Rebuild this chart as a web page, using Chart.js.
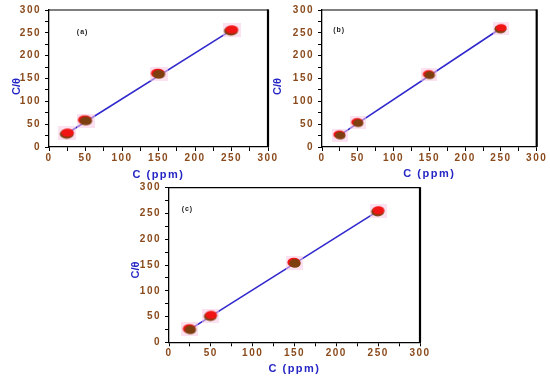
<!DOCTYPE html>
<html><head><meta charset="utf-8">
<script src="https://cdn.jsdelivr.net/npm/chart.js@4/dist/chart.umd.min.js"></script>
<style>
html,body{margin:0;padding:0;background:#fff;width:550px;height:383px;overflow:hidden}
canvas{position:absolute;left:0;top:0}
</style></head><body>
<canvas id="ca" width="550" height="383"></canvas>
<canvas id="cb" width="550" height="383"></canvas>
<canvas id="cc" width="550" height="383"></canvas>
<script>
// ---- data ----
const concentrations = [25, 50, 150, 250];      // C (ppm)
const ratioA = [30, 58, 160, 256];              // C/θ panel (a)
const ratioB = [26, 53, 158, 260];              // C/θ panel (b)
const ratioC = [25, 52, 154, 255];              // C/θ panel (c)
const axisTicks = [0, 50, 100, 150, 200, 250, 300];
const panelLabels = ['(a)', '(b)', '(c)'];
const xTitle = 'C (ppm)';
const yTitle = 'C/\u03B8';

// ---- styles ----
const FONT = '"Liberation Sans", Arial, sans-serif';
const RED = '#f01414', BROWN = '#7e3f10', BLUE = '#2626c4', TICKCOL = '#8a4a1c', LINECOL = '#3028cc';
const SPACING = '1.5px';
function marker(kind, w, h) {
  const pad = 2;
  const c = document.createElement('canvas');
  c.width = w + pad * 2; c.height = h + pad * 2;
  const g = c.getContext('2d');
  g.fillStyle = 'rgba(250,200,230,0.55)';
  g.fillRect(0, 0, c.width, c.height);
  const cx = c.width / 2, cy = c.height / 2;
  const ell = (x, y, rx, ry, col) => { g.beginPath(); g.ellipse(x, y, rx, ry, 0, 0, Math.PI * 2); g.fillStyle = col; g.fill(); };
  if (kind === 'R') {
    ell(cx - 0.5, cy + 0.8, w / 2, h / 2 - 0.3, BROWN);
    ell(cx + 0.3, cy - 0.6, w / 2 - 0.6, h / 2 - 0.8, RED);
  } else {
    ell(cx - 0.6, cy - 0.6, w / 2, h / 2 - 0.3, RED);
    ell(cx + 0.4, cy + 0.4, w / 2 - 0.8, h / 2 - 0.6, BROWN);
  }
  return c;
}
const marksA = ['R', 'B', 'B', 'R'];
const marksB = ['B', 'B', 'B', 'R'];
const marksC = ['B', 'R', 'B', 'R'];

const framePlugin = {
  id: 'frame',
  beforeLayout(chart) { chart.ctx.letterSpacing = SPACING; },
  beforeDraw(chart) { chart.ctx.letterSpacing = SPACING; },
  afterDraw(chart, args, opts) {
    const {ctx, chartArea: a, scales} = chart;
    ctx.save();
    ctx.strokeStyle = '#000';
    ctx.lineWidth = 1.2;
    ctx.beginPath();
    ctx.moveTo(a.left, a.top); ctx.lineTo(a.right, a.top);
    ctx.stroke();
    ctx.lineWidth = 2.2;
    ctx.beginPath();
    ctx.moveTo(a.right, a.top - 0.6); ctx.lineTo(a.right, a.bottom);
    ctx.stroke();
    // panel label
    ctx.letterSpacing = '1px';
    ctx.font = 'bold 7px ' + FONT;
    ctx.fillStyle = '#222';
    ctx.textAlign = 'center'; ctx.textBaseline = 'middle';
    ctx.fillText(opts.label, scales.x.getPixelForValue(opts.lx), scales.y.getPixelForValue(opts.ly));
    // y-axis title
    ctx.letterSpacing = '0px';
    ctx.font = 'bold 11px ' + FONT;
    ctx.fillStyle = BLUE;
    ctx.translate(opts.tx, (a.top + a.bottom) / 2 + opts.ty);
    ctx.rotate(-Math.PI / 2);
    ctx.fillText(yTitle, 0, 0);
    ctx.restore();
    ctx.letterSpacing = SPACING;
  }
};

function makePanel(id, values, marks, label, lx, ly, tx, ty, pad, yW, xH, mw, mh) {
  const spaced = v => axisTicks.includes(v) ? String(v) : '';
  const common = () => ({
    min: 0, max: 300,
    ticks: { stepSize: 25, autoSkip: false, maxRotation: 0, color: TICKCOL,
             font: { family: FONT, size: 10, weight: 'bold' },
             callback: spaced },
    grid: { display: true, drawOnChartArea: false, drawTicks: true, tickLength: 4, tickWidth: 1, tickColor: '#000' },
    border: { display: true, color: '#000', width: 1.3 }
  });
  const xs = common();
  xs.type = 'linear'; xs.position = 'bottom'; xs.ticks.padding = 1;
  xs.title = { display: true, text: xTitle, color: BLUE, font: { family: FONT, size: 11, weight: 'bold' }, padding: 4 };
  xs.afterFit = s => { s.height = xH; };
  const ys = common();
  ys.type = 'linear'; ys.position = 'left'; ys.ticks.padding = 4;
  ys.title = { display: false };
  ys.afterFit = s => { s.width = yW; };
  const pts = concentrations.map((c, i) => ({x: c, y: values[i]}));
  const n = pts.length - 1;
  return new Chart(document.getElementById(id), {
    type: 'scatter',
    data: { datasets: [
      { type: 'line', data: [pts[0], pts[n]], borderColor: LINECOL, borderWidth: 1.6, pointRadius: 0, fill: false, order: 2 },
      { data: pts, pointStyle: marks.map(k => marker(k, mw, mh)), order: 1 }
    ]},
    options: {
      responsive: false, animation: false, devicePixelRatio: 1,
      layout: { padding: pad },
      plugins: { legend: { display: false }, tooltip: { enabled: false }, frame: { label, lx, ly, tx, ty } },
      scales: { x: xs, y: ys }
    },
    plugins: [framePlugin]
  });
}

makePanel('ca', ratioA, marksA, panelLabels[0], 46, 252, 16.5, 8,
  { left: 6, right: 282, top: 8, bottom: 197.4 }, 43, 38.6, 14, 10);
makePanel('cb', ratioB, marksB, panelLabels[1], 24, 255, 278, 8,
  { left: 266.4, right: 13.3, top: 8.3, bottom: 198.4 }, 55.6, 37.6, 12, 9);
makePanel('cc', ratioC, marksC, panelLabels[2], 22, 259, 136, 5,
  { left: 125, right: 130, top: 187.7, bottom: 3.4 }, 44, 37.3, 13, 10);
</script>
</body></html>
